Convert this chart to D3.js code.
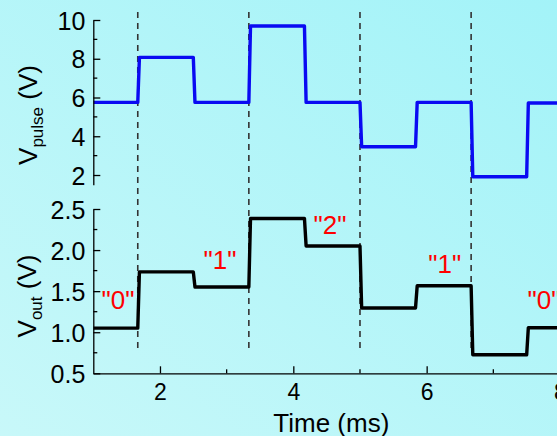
<!DOCTYPE html>
<html>
<head>
<meta charset="utf-8">
<script src="https://cdn.jsdelivr.net/npm/d3@7"></script>
<style>
  html, body { margin: 0; padding: 0; overflow: hidden; }
  svg { display: block; }
  text { font-family: "Liberation Sans", Arial, sans-serif; }
</style>
</head>
<body>
<svg id="chart" width="557" height="436"></svg>
<script>
// Switching times (ms) where the input pulse changes level
const edgeTimes = [1.0, 1.667, 2.5, 3.333, 4.167, 5.0, 5.833, 6.667, 7.5, 8.3];
// Input pulse level (V) held from each edge to the next
const pulseLevels = [5.75, 8.07, 5.75, 9.69, 5.75, 3.46, 5.75, 1.91, 5.72];
// Output voltage (V) held from each edge to the next
const outLevels = [1.05, 1.735, 1.55, 2.385, 2.05, 1.295, 1.565, 0.725, 1.055];
// Write instants (dashed markers), ms
const markerTimes = [1.667, 3.333, 5.0, 6.667];
// Stored-state annotations
const stateLabels = ['"0"', '"1"', '"2"', '"1"', '"0"'];
const stateX = [1.37, 2.90, 4.55, 6.27, 7.76];
const stateY = [1.28, 1.77, 2.20, 1.72, 1.28];
// Axis ticks
const xTicks = [2, 4, 6, 8];
const xMinor = [3, 5, 7];
const pulseTicks = [2, 4, 6, 8, 10];
const pulseMinor = [3, 5, 7, 9];
const outTicks = [0.5, 1.0, 1.5, 2.0, 2.5];
const outMinor = [0.75, 1.25, 1.75, 2.25];

const svg = d3.select("#chart");
const W = 557, H = 436;

// background wash
const defs = svg.append("defs");
const grad = defs.append("linearGradient").attr("id", "bg")
  .attr("x1", "100%").attr("y1", "0%").attr("x2", "0%").attr("y2", "100%");
grad.append("stop").attr("offset", "0%").attr("stop-color", "#a3f3f8");
grad.append("stop").attr("offset", "100%").attr("stop-color", "#c8f8f9");
svg.append("rect").attr("width", W).attr("height", H).attr("fill", "url(#bg)");

const x = d3.scaleLinear().domain([1, 8]).range([93.3, 560]);
const yTop = d3.scaleLinear().domain([1.5, 10]).range([184.7, 20]);
const yBot = d3.scaleLinear().domain([0.5, 2.5]).range([373.3, 209]);

// dashed write markers spanning both panels
svg.append("g").selectAll("line").data(markerTimes).join("line")
  .attr("x1", d => x(d)).attr("x2", d => x(d))
  .attr("y1", 12).attr("y2", 350)
  .attr("stroke", "#333").attr("stroke-width", 1.6)
  .attr("stroke-dasharray", "6,5");

// build stepped trace points with short rise/fall ramps
const ramp = 0.025;
function stepPoints(levels) {
  const pts = [];
  levels.forEach((v, i) => {
    const t0 = edgeTimes[i], t1 = edgeTimes[i + 1];
    pts.push([i === 0 ? t0 : t0 + ramp, v]);
    pts.push([t1, v]);
  });
  return pts;
}

const clip = defs.append("clipPath").attr("id", "plotclip");
clip.append("rect").attr("x", x(1)).attr("y", 0).attr("width", W).attr("height", H);

const lineTop = d3.line().x(d => x(d[0])).y(d => yTop(d[1]));
const lineBot = d3.line().x(d => x(d[0])).y(d => yBot(d[1]));

svg.append("path").attr("clip-path", "url(#plotclip)")
  .attr("d", lineTop(stepPoints(pulseLevels)))
  .attr("fill", "none").attr("stroke", "#0a0af2")
  .attr("stroke-width", 3.4).attr("stroke-linejoin", "round");

svg.append("path").attr("clip-path", "url(#plotclip)")
  .attr("d", lineBot(stepPoints(outLevels)))
  .attr("fill", "none").attr("stroke", "#000")
  .attr("stroke-width", 3.4).attr("stroke-linejoin", "round");

// axes
function styleAxis(g) {
  g.select(".domain").attr("stroke", "#000").attr("stroke-width", 1.3);
  g.selectAll(".tick line").attr("stroke", "#000").attr("stroke-width", 1.3);
  g.selectAll(".tick text").attr("fill", "#000")
    .style("font-family", '"Liberation Sans", Arial, sans-serif');
}

// top y axis
const gTopY = svg.append("g").attr("transform", `translate(${x(1)},0)`)
  .call(d3.axisLeft(yTop).tickValues(pulseTicks).tickFormat(d3.format("d"))
    .tickSizeInner(-7).tickSizeOuter(0).tickPadding(8));
styleAxis(gTopY);
gTopY.selectAll(".tick text").style("font-size", "25px").attr("dy", "0.36em");
gTopY.append("g").selectAll("line").data(pulseMinor).join("line")
  .attr("x1", 0).attr("x2", 4).attr("y1", d => yTop(d)).attr("y2", d => yTop(d))
  .attr("stroke", "#000").attr("stroke-width", 1.3);

// bottom y axis
const gBotY = svg.append("g").attr("transform", `translate(${x(1)},0)`)
  .call(d3.axisLeft(yBot).tickValues(outTicks).tickFormat(d3.format(".1f"))
    .tickSizeInner(-7).tickSizeOuter(0).tickPadding(8));
styleAxis(gBotY);
gBotY.selectAll(".tick text").style("font-size", "25px").attr("dy", "0.36em");
gBotY.append("g").selectAll("line").data(outMinor).join("line")
  .attr("x1", 0).attr("x2", 4).attr("y1", d => yBot(d)).attr("y2", d => yBot(d))
  .attr("stroke", "#000").attr("stroke-width", 1.3);

// x axis
const xAxisScale = x.copy().domain([1, 8.2]).range([x(1), x(8.2)]);
const gX = svg.append("g").attr("transform", `translate(0,${yBot(0.5)})`)
  .call(d3.axisBottom(xAxisScale).tickValues(xTicks).tickFormat(d3.format("d"))
    .tickSizeInner(-7).tickSizeOuter(0).tickPadding(10));
styleAxis(gX);
gX.selectAll(".tick text").style("font-size", "23px").attr("dy", "0.71em");
gX.append("g").selectAll("line").data(xMinor).join("line")
  .attr("x1", d => x(d)).attr("x2", d => x(d)).attr("y1", 0).attr("y2", -4)
  .attr("stroke", "#000").attr("stroke-width", 1.3);

// state annotations
svg.append("g").selectAll("text").data(stateLabels).join("text")
  .attr("x", (d, i) => x(stateX[i]))
  .attr("y", (d, i) => yBot(stateY[i]))
  .attr("text-anchor", "middle")
  .attr("fill", "#ff0000").style("font-size", "26px")
  .text(d => d);

// axis titles
svg.append("text").attr("x", x(4.57)).attr("y", 432)
  .attr("text-anchor", "middle").style("font-size", "26px").attr("fill", "#000")
  .text("Time (ms)");

function yTitle(cx, cy, sub) {
  const t = svg.append("text")
    .attr("transform", `translate(${cx},${cy}) rotate(-90)`)
    .attr("text-anchor", "middle").style("font-size", "26px").attr("fill", "#000");
  t.append("tspan").text("V");
  t.append("tspan").attr("dy", 6).style("font-size", "17px").text(sub);
  t.append("tspan").attr("dy", -6).text(" (V)");
}
yTitle(37, 115, "pulse");
yTitle(36, 296, "out");
</script>
</body>
</html>
